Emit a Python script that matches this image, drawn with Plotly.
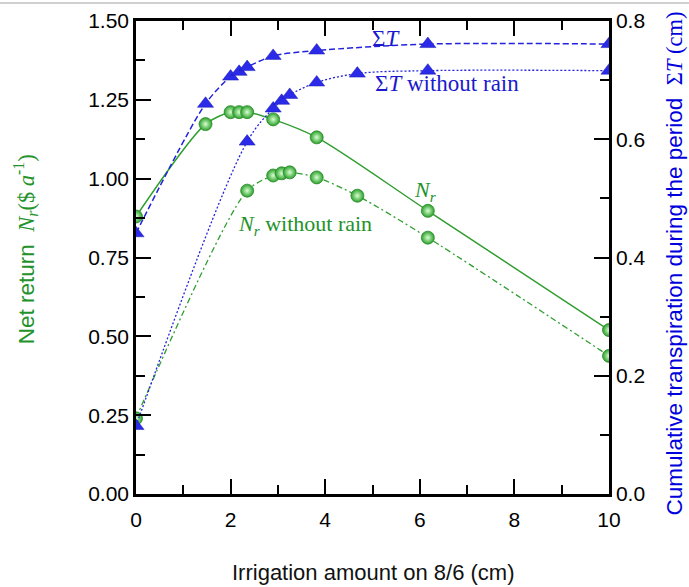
import plotly.graph_objects as go

# ---- data ----
x_rain = [0, 1.47, 2.0, 2.18, 2.35, 2.9, 3.82, 6.17, 10]
nr_rain = [0.88, 1.173, 1.211, 1.211, 1.211, 1.188, 1.131, 0.898, 0.520]
st_rain = [0.441, 0.660, 0.706, 0.714, 0.722, 0.741, 0.750, 0.761, 0.761]

x_dry = [0, 2.35, 2.9, 3.08, 3.25, 3.82, 4.68, 6.17, 10]
nr_dry = [0.24, 0.962, 1.010, 1.017, 1.020, 1.004, 0.946, 0.813, 0.438]
st_dry = [0.115, 0.596, 0.652, 0.665, 0.675, 0.696, 0.711, 0.716, 0.716]

x_ticks = [0, 2, 4, 6, 8, 10]
y_left_ticks = [0, 0.25, 0.5, 0.75, 1.0, 1.25, 1.5]
y_right_ticks = [0, 0.2, 0.4, 0.6, 0.8]

GREEN = "#2f9e2f"
GREEN_TXT = "#23922a"
BLUE = "#2323dd"
BLUE_TXT = "#1a1acc"
SERIF = "Liberation Serif"
SANS = "Liberation Sans"

green_marker = dict(symbol="circle", size=13, color="#2aa02a",
                    gradient=dict(type="radial", color="#d8ffd0"),
                    line=dict(color="#2a8a2a", width=0.8))
blue_marker = dict(symbol="triangle-up", size=14, color="#2a2ae8",
                   line=dict(color="#1a1ab0", width=0.5))

fig = go.Figure()

fig.add_trace(go.Scatter(x=x_rain, y=nr_rain, mode="lines+markers",
                         line=dict(color=GREEN, width=1.5, shape="spline", smoothing=0.8),
                         marker=green_marker, yaxis="y", showlegend=False))
fig.add_trace(go.Scatter(x=x_dry, y=nr_dry, mode="lines+markers",
                         line=dict(color=GREEN, width=1.3, dash="6px,3px,2px,3px",
                                   shape="spline", smoothing=0.8),
                         marker=green_marker, yaxis="y", showlegend=False))
fig.add_trace(go.Scatter(x=x_rain, y=st_rain, mode="lines+markers",
                         line=dict(color=BLUE, width=1.5, dash="6px,3px",
                                   shape="spline", smoothing=0.8),
                         marker=blue_marker, yaxis="y2", showlegend=False))
fig.add_trace(go.Scatter(x=x_dry, y=st_dry, mode="lines+markers",
                         line=dict(color=BLUE, width=1.3, dash="2px,2px",
                                   shape="spline", smoothing=1.0),
                         marker=blue_marker, yaxis="y2", showlegend=False))

tickfont = dict(family=SANS, size=21, color="#000000")

fig.update_layout(
    width=689, height=587,
    margin=dict(l=136, r=80, t=21, b=93, autoexpand=False),
    paper_bgcolor="white", plot_bgcolor="white",
    xaxis=dict(range=[0, 10], tickvals=x_ticks, ticktext=[str(v) for v in x_ticks],
               ticks="inside", ticklen=15, tickwidth=2, tickcolor="black",
               minor=dict(dtick=1, ticks="inside", ticklen=9, tickwidth=2, tickcolor="black"),
               showline=True, linewidth=2.5, linecolor="black", mirror="ticks",
               showgrid=False, zeroline=False, tickfont=tickfont, automargin=False,
               ticklabelstandoff=5),
    yaxis=dict(range=[0, 1.5], tickvals=y_left_ticks,
               ticktext=[f"{v:.2f}" for v in y_left_ticks],
               ticks="inside", ticklen=15, tickwidth=2, tickcolor="black",
               minor=dict(dtick=0.125, ticks="inside", ticklen=9, tickwidth=2, tickcolor="black"),
               showline=True, linewidth=2.5, linecolor="black",
               showgrid=False, zeroline=False, tickfont=tickfont, automargin=False),
    yaxis2=dict(range=[0, 0.8], tickvals=y_right_ticks,
                ticktext=[f"{v:.1f}" for v in y_right_ticks],
                overlaying="y", side="right",
                ticks="inside", ticklen=15, tickwidth=2, tickcolor="black",
                minor=dict(dtick=0.1, ticks="inside", ticklen=9, tickwidth=2, tickcolor="black"),
                showline=True, linewidth=2.5, linecolor="black",
                showgrid=False, zeroline=False, tickfont=tickfont, automargin=False),
)

annotations = [
    # axis titles
    dict(text="Irrigation amount on 8/6 (cm)", xref="paper", yref="paper",
         x=0.5, y=-0.165, xanchor="center", yanchor="middle", showarrow=False,
         font=dict(family=SANS, size=22, color="#111111")),
    dict(text=("Net return  <span style='font-family:Liberation Serif'><i>N<sub>r</sub></i>"
               "($ <i>a</i><sup>-1</sup>)</span>"),
         xref="paper", yref="paper", x=-0.232, y=0.518, xanchor="center", yanchor="middle",
         textangle=-90, showarrow=False,
         font=dict(family=SANS, size=22.5, color=GREEN_TXT)),
    dict(text=("Cumulative transpiration during the period  "
               "<span style='font-family:Liberation Serif'>Σ<i>T</i> (cm)</span>"),
         xref="paper", yref="paper", x=1.138, y=0.488, xanchor="center", yanchor="middle",
         textangle=-90, showarrow=False,
         font=dict(family=SANS, size=22.5, color="#0000dd")),
    # curve labels
    dict(text="Σ<i>T</i>", xref="x", yref="y", x=5.29, y=1.446, showarrow=False,
         font=dict(family=SERIF, size=23, color=BLUE_TXT)),
    dict(text="Σ<i>T</i> without rain", xref="x", yref="y", x=5.0, y=1.303, xanchor="left",
         showarrow=False, font=dict(family=SERIF, size=23, color=BLUE_TXT)),
    dict(text="<i>N<sub>r</sub></i>", xref="x", yref="y", x=6.12, y=0.961, showarrow=False,
         font=dict(family=SERIF, size=22, color=GREEN_TXT)),
    dict(text="<i>N<sub>r</sub></i> without rain", xref="x", yref="y", x=2.12, y=0.853,
         xanchor="left", showarrow=False, font=dict(family=SERIF, size=22, color=GREEN_TXT)),
]
fig.update_layout(annotations=annotations)

fig.add_shape(type="line", xref="paper", yref="paper", x0=-0.29, x1=1.17, y0=1.038, y1=1.038,
              line=dict(color="#d0d0d0", width=2), layer="above")

fig.write_html("out.html", config={"displayModeBar": False},
               post_script="document.body.style.margin='0px';")
